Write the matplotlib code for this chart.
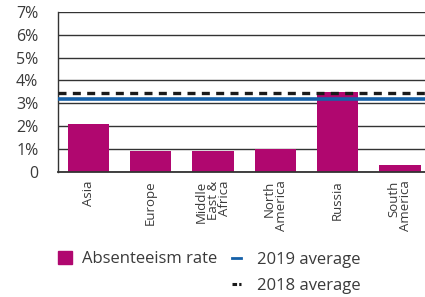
import numpy as np
import matplotlib.pyplot as plt
from matplotlib.lines import Line2D
from matplotlib.patches import Patch

## Data
regions = ["Asia", "Europe", "Middle\nEast &\nAfrica", "North\nAmerica", "Russia", "South\nAmerica"]
absenteeism = [2.1, 0.92, 0.92, 1.0, 3.5, 0.3]
avg_2019 = 3.2
avg_2018 = 3.45
y_ticks = [0, 1, 2, 3, 4, 5, 6, 7]
y_labels = ["0", "1%", "2%", "3%", "4%", "5%", "6%", "7%"]

## Style
bar_color = "#B0076F"
blue = "#1560A8"
text_color = "#3a3a3a"
plt.rcParams['font.family'] = ['Open Sans', 'DejaVu Sans']

fig = plt.figure(figsize=(4.25, 2.97), dpi=100)
ax = fig.add_axes([0.136, 0.421, 0.864, 0.539])

x = np.arange(len(regions))
ax.bar(x, absenteeism, width=0.66, color=bar_color, zorder=2)
ax.axhline(avg_2019, color=blue, lw=2.6, zorder=3)
ax.axhline(avg_2018, color="#1a1a1a", lw=2.4, ls=(0, (2.4, 1.9)), zorder=4)

ax.set_ylim(0, 7)
ax.set_xlim(-0.49, 5.4)
ax.set_yticks(y_ticks)
ax.set_yticklabels(y_labels, fontsize=11.5, color=text_color)
ax.set_xticks(x)
ax.set_xticklabels(regions, rotation=90, fontsize=9.5, color=text_color,
                   va='top', ha='center', multialignment='right', linespacing=0.85)
ax.tick_params(axis='y', length=0, pad=14)
ax.tick_params(axis='x', length=0, pad=6)
ax.grid(axis='y', color='#333333', lw=1, zorder=0)
for s in ['top', 'right']:
    ax.spines[s].set_visible(False)
ax.spines['left'].set_color('#333333')
ax.spines['bottom'].set_color('#333333')
ax.spines['left'].set_linewidth(1)
ax.spines['bottom'].set_linewidth(1.3)

## Legend
leg_kw = dict(frameon=False, fontsize=12, labelcolor=text_color, borderpad=0,
              borderaxespad=0, labelspacing=0.63, loc='center left',
              bbox_transform=fig.transFigure)
fig.legend([Patch(color=bar_color)], ["Absenteeism rate"], handlelength=0.82,
           handleheight=0.82, handletextpad=0.6, bbox_to_anchor=(0.1365, 0.128), **leg_kw)
fig.legend([Line2D([], [], color=blue, lw=2),
            Line2D([], [], color="#1a1a1a", lw=2.2, ls=(0, (1.5, 0.7)))],
           ["2019 average", "2018 average"], handlelength=0.55, handletextpad=0.95,
           bbox_to_anchor=(0.546, 0.081), **leg_kw)

fig.savefig("out.png", dpi=100)
